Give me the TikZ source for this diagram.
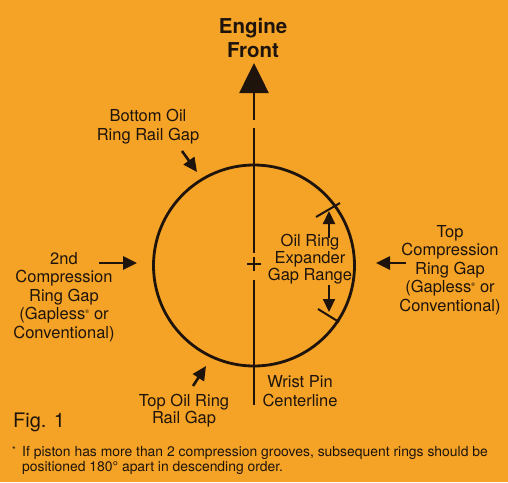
\documentclass[tikz,border=0pt]{standalone}
\usepackage{fontspec}
\setmainfont{TeX Gyre Heros}
\usetikzlibrary{arrows.meta}
\definecolor{cardorange}{RGB}{245,163,38}
\definecolor{inkblack}{RGB}{30,20,12}
\newcommand{\regmark}{\textsuperscript{\tiny ®}}
\begin{document}
\begin{tikzpicture}[x=1pt,y=-1pt,
  lbl/.style={inner sep=0pt,anchor=base,align=center,text=inkblack,font=\fontsize{16.5}{18.4}\selectfont},
  gaparrow/.style={draw=inkblack,line width=2.6pt,-{Triangle[length=14pt,width=13pt]}},
  rangearrow/.style={draw=inkblack,line width=2.2pt,-{Triangle[length=13pt,width=12pt]}},
  ringline/.style={draw=inkblack,line width=2.8pt},
  pinline/.style={draw=inkblack,line width=2pt}]
\fill[cardorange] (0,0) rectangle (508,482);
\useasboundingbox (0,0) rectangle (508,482);
% piston outline and wrist pin centerline
\coordinate (ctr) at (254,265.5);
\draw[ringline] (ctr) circle (100.5);
\coordinate (pintop) at (254,128);
\coordinate (pinmidA) at (254,253);
\coordinate (pinmidB) at (254,280);
\coordinate (pinbot) at (254,405);
\draw[pinline] (pintop) -- (pinmidA);
\draw[pinline] (pinmidB) -- (pinbot);
\draw[draw=inkblack,line width=2.2pt] (ctr) +(-7,-1.5) -- +(7,-1.5) (ctr) +(0,-8.5) -- +(0,5.5);
\coordinate (frontA) at (254,120);
\coordinate (frontB) at (254,63);
\draw[draw=inkblack,line width=2.6pt,-{Triangle[length=30pt,width=29pt]}] (frontA) -- (frontB);
% labels (anchored at the baseline of the last line)
\node[lbl,font=\fontsize{20.5}{23.5}\selectfont\bfseries] (front) at (253,57) {Engine\\Front};
\node[lbl] (botoil) at (148,140) {Bottom Oil\\Ring Rail Gap};
\node[lbl] (second) at (64,338) {2nd\\Compression\\Ring Gap\\(Gapless\regmark{} or\\Conventional)};
\node[lbl] (topcomp) at (450,311) {Top\\Compression\\Ring Gap\\(Gapless\regmark{} or\\Conventional)};
\node[lbl,font=\fontsize{16.5}{15.5}\selectfont] (expander) at (310,280) {Oil Ring\\Expander\\Gap Range};
\node[lbl,font=\fontsize{16.5}{17}\selectfont] (topoil) at (184,423) {Top Oil Ring\\Rail Gap};
\node[lbl] (wrist) at (300,406) {Wrist Pin\\Centerline};
\node[lbl,anchor=base west,font=\fontsize{20}{24}\selectfont] (fig) at (13,427) {Fig. 1};
\node[lbl,anchor=base west,font=\fontsize{9.5}{10}\selectfont] (star) at (12,453) {*};
\node[lbl,anchor=base west,align=left,font=\fontsize{13.9}{15}\selectfont] (note) at (22,471) {If piston has more than 2 compression grooves, subsequent rings should be\\positioned 180° apart in descending order.};
% gap arrows
\coordinate (botoilA) at (182,151);
\coordinate (botoilB) at (197,172);
\draw[gaparrow] (botoilA) -- (botoilB);
\coordinate (secondA) at (99,263);
\coordinate (secondB) at (137,263);
\draw[gaparrow] (secondA) -- (secondB);
\coordinate (topcompA) at (406,263);
\coordinate (topcompB) at (376,263);
\draw[gaparrow] (topcompA) -- (topcompB);
\coordinate (topoilA) at (193,386);
\coordinate (topoilB) at (206,366);
\draw[gaparrow] (topoilA) -- (topoilB);
% expander gap range
\coordinate (tickA1) at (316,217);
\coordinate (tickA2) at (340,203);
\coordinate (tickB1) at (318,309);
\coordinate (tickB2) at (339,322);
\draw[pinline] (tickA1) -- (tickA2);
\draw[pinline] (tickB1) -- (tickB2);
\coordinate (upA) at (329,238);
\coordinate (upB) at (329,211);
\coordinate (downA) at (329,285);
\coordinate (downB) at (329,312);
\draw[rangearrow] (upA) -- (upB);
\draw[rangearrow] (downA) -- (downB);
\end{tikzpicture}
\end{document}
